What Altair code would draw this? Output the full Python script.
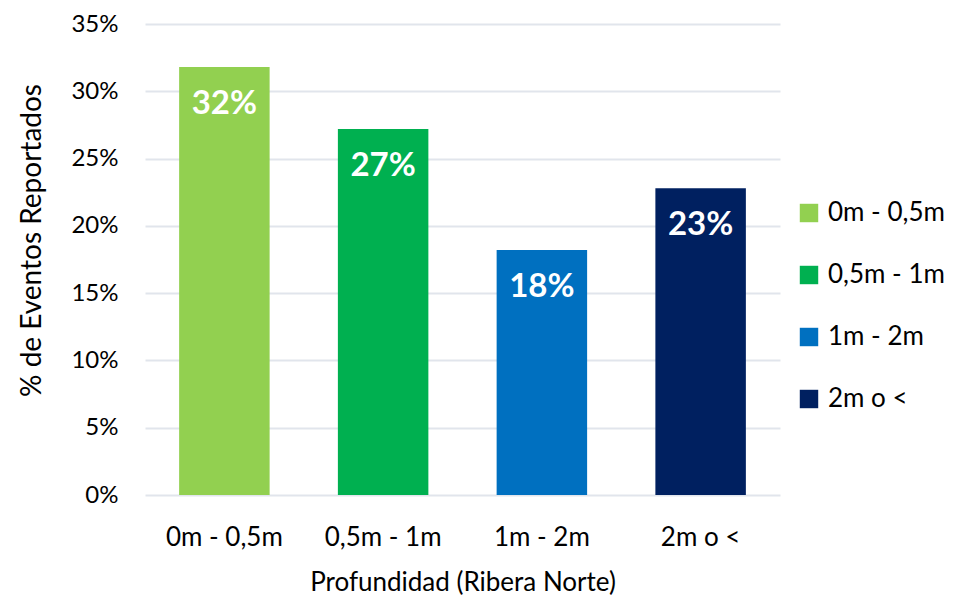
import altair as alt
import pandas as pd

categories = ["0m - 0,5m", "0,5m - 1m", "1m - 2m", "2m o <"]
values = [0.318, 0.272, 0.182, 0.228]
labels = ["32%", "27%", "18%", "23%"]
colors = ["#92D050", "#00B050", "#0070C0", "#002060"]

df = pd.DataFrame({"cat": categories, "val": values, "lab": labels})

FONT = "Lato"

x = alt.X("cat:N", sort=categories,
          scale=alt.Scale(paddingInner=0.43, paddingOuter=0.215),
          axis=alt.Axis(title="Profundidad (Ribera Norte)", labelAngle=0,
                        labelFontSize=26, titleFontSize=26, labelPadding=29,
                        titlePadding=19, ticks=False, domain=False,
                        labelColor="#000", titleColor="#000",
                        labelFont=FONT, titleFont=FONT, titleFontWeight="normal"))
y = alt.Y("val:Q", scale=alt.Scale(domain=[0, 0.35]),
          axis=alt.Axis(title="% de Eventos Reportados", format=".0%",
                        values=[0, 0.05, 0.1, 0.15, 0.2, 0.25, 0.3, 0.35],
                        labelFontSize=24, titleFontSize=28, labelPadding=27,
                        titlePadding=24, titleY=216, ticks=False, domain=False,
                        gridColor="#E1E5EC", gridWidth=2,
                        labelColor="#000", titleColor="#000",
                        labelFont=FONT, titleFont=FONT, titleFontWeight="normal"))

bars = alt.Chart(df).mark_bar().encode(
    x=x, y=y,
    color=alt.Color("cat:N", sort=categories,
                    scale=alt.Scale(domain=categories, range=colors),
                    legend=alt.Legend(title=None, orient="none", legendX=651, legendY=176,
                                      symbolType="square", symbolSize=340,
                                      symbolStrokeWidth=0, labelFontSize=26,
                                      labelFont=FONT, labelColor="#000",
                                      rowPadding=36, labelOffset=6))
)

text = alt.Chart(df).mark_text(color="white", fontWeight="bold", fontSize=33,
                               font=FONT, baseline="middle", dy=37).encode(
    x=alt.X("cat:N", sort=categories), y="val:Q", text="lab:N")

chart = (bars + text).properties(
    width=635, height=471,
    autosize=alt.AutoSizeParams(type="none"),
    padding={"left": 137, "top": 16, "right": 172, "bottom": 107}
).configure(background="white", view=alt.ViewConfig(stroke=None))

chart.save("out.html", embed_options={"renderer": "svg", "actions": False})
